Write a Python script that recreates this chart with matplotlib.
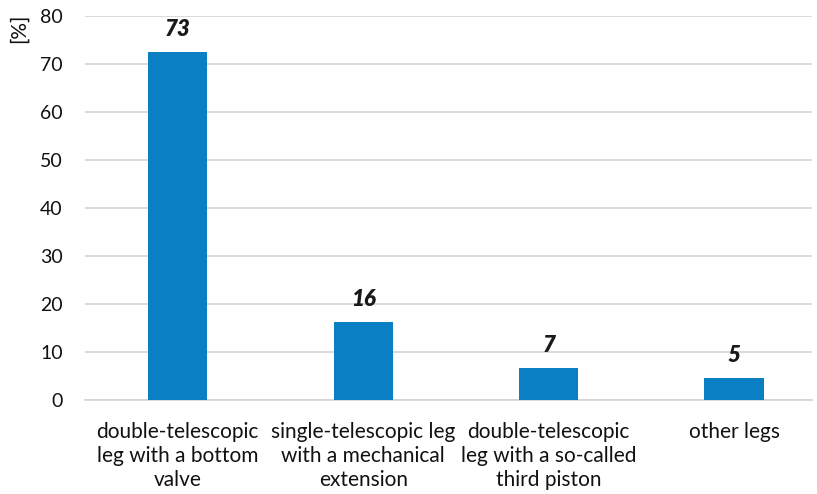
import matplotlib
matplotlib.use("Agg")
import matplotlib.pyplot as plt

categories = [
    "double-telescopic\nleg with a bottom\nvalve",
    "single-telescopic leg\nwith a mechanical\nextension",
    "double-telescopic\nleg with a so-called\nthird piston",
    "other legs",
]
shares = [72.6, 16.3, 6.7, 4.6]
y_ticks = [0, 10, 20, 30, 40, 50, 60, 70, 80]

plt.rcParams["font.family"] = ["Lato", "DejaVu Sans"]

fig = plt.figure(figsize=(8.17, 4.94), dpi=100)
ax = fig.add_axes([85 / 817, 94 / 494, (812 - 85) / 817, 384 / 494])

x = list(range(len(categories)))
bars = ax.bar(x, shares, width=0.32, color="#0a7fc4", zorder=3)

for xi, v in zip(x, shares):
    ax.annotate(f"{v:.0f}", (xi, v), xytext=(0, 8.5), textcoords="offset points",
                ha="center", va="bottom", fontsize=16, fontweight="heavy",
                fontstyle="italic", color="#1a1a1a")

ax.set_ylim(0, 80)
ax.set_xlim(-0.5, 3.42)
ax.set_yticks(y_ticks)
ax.yaxis.grid(True, color="#d0d4d8", linewidth=1.2, zorder=0)
ax.set_xticks(x)
ax.set_xticklabels(categories, fontsize=15, linespacing=1.28, color="#111111")
ax.tick_params(axis="x", length=0, pad=15.5)
ax.tick_params(axis="y", length=0, pad=16, labelsize=14, labelcolor="#111111")
for s in ["top", "right", "left"]:
    ax.spines[s].set_visible(False)
ax.spines["bottom"].set_color("#d0d4d8")
ax.spines["bottom"].set_linewidth(1.2)

fig.text(18.5 / 817, 1 - 28 / 494, "[%]", rotation=90, ha="center", va="center",
         fontsize=15, color="#111111")

fig.savefig("out.png", dpi=100)
